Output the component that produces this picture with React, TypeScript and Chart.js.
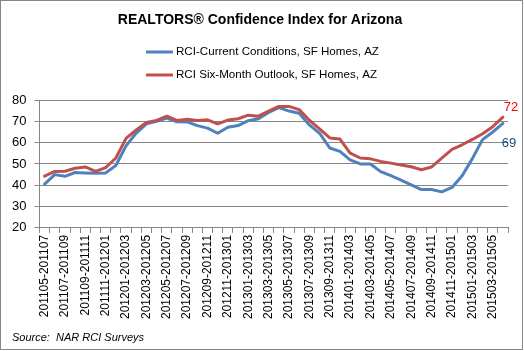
import React, { useEffect, useRef } from 'react';
import { Chart, registerables } from 'chart.js';

Chart.register(...registerables);

const titleText = 'REALTORS® Confidence Index for Arizona';
const seriesNames = ['RCI-Current Conditions, SF Homes, AZ', 'RCI Six-Month Outlook, SF Homes, AZ'];
const sourceText = 'Source:  NAR RCI Surveys';

const periods = [
  '201105-201107', '201106-201108', '201107-201109', '201108-201110', '201109-201111',
  '201110-201112', '201111-201201', '201112-201202', '201201-201203', '201202-201204',
  '201203-201205', '201204-201206', '201205-201207', '201206-201208', '201207-201209',
  '201208-201210', '201209-201211', '201210-201212', '201211-201301', '201212-201302',
  '201301-201303', '201302-201304', '201303-201305', '201304-201306', '201305-201307',
  '201306-201308', '201307-201309', '201308-201310', '201309-201311', '201310-201312',
  '201401-201403', '201402-201404', '201403-201405', '201404-201406', '201405-201407',
  '201406-201408', '201407-201409', '201408-201410', '201409-201411', '201410-201412',
  '201411-201501', '201412-201502', '201501-201503', '201502-201504', '201503-201505',
  '201504-201506',
];

const currentConditions = [
  40.5, 45, 44.2, 46, 45.8, 45.7, 45.8, 49.3, 58.5, 64.5,
  68.8, 70, 71.5, 69.8, 69.7, 68, 66.8, 64.4, 67.2, 68,
  70.3, 71.2, 74.2, 76.4, 74.8, 73.8, 68.3, 64.4, 57.5, 55.9,
  51.9, 50, 50, 46.4, 44.5, 42.4, 40.2, 38, 38, 36.9,
  39, 44.5, 52.5, 61.4, 65, 69,
];

const sixMonthOutlook = [
  44.3, 46.5, 46.6, 48, 48.6, 46.5, 48.3, 52.8, 62, 66,
  69.5, 70.4, 72.4, 70.4, 71, 70.4, 70.7, 68.8, 70.6, 71.2,
  72.9, 72.4, 74.8, 77, 77, 75.5, 70.5, 66.5, 62.2, 61.7,
  55.1, 52.8, 52.4, 51.2, 50.4, 49.5, 48.7, 47.3, 48.6, 52.7,
  56.8, 59, 61.5, 64.2, 67.5, 72,
];

const yMin = 20;
const yMax = 80;
const yStep = 10;

const BLUE = '#4F81BD';
const RED = '#C0504D';
const FONT = '"Liberation Sans", Arial, sans-serif';

const decorPlugin = {
  id: 'decor',
  beforeDraw(chart: any) {
    const { ctx, width, height } = chart;
    ctx.save();
    ctx.fillStyle = '#ffffff';
    ctx.fillRect(0, 0, width, height);
    ctx.strokeStyle = '#868686';
    ctx.lineWidth = 1;
    ctx.strokeRect(0.5, 0.5, width - 2, height - 2);
    ctx.restore();
  },
  afterDraw(chart: any) {
    const { ctx, width } = chart;
    ctx.save();
    // title
    ctx.fillStyle = '#000';
    ctx.font = `bold 14px ${FONT}`;
    ctx.textAlign = 'center';
    ctx.textBaseline = 'middle';
    ctx.fillText(titleText, width / 2 - 2, 20);

    // legend (vertical, centered block)
    ctx.font = `11.6px ${FONT}`;
    const colors = [BLUE, RED];
    const rowsY = [52, 75];
    const lineLen = 27;
    const gap = 3;
    const maxW = Math.max(...seriesNames.map((s) => ctx.measureText(s).width));
    const startX = Math.round((width - (lineLen + gap + maxW)) / 2);
    seriesNames.forEach((name, i) => {
      ctx.strokeStyle = colors[i];
      ctx.lineWidth = 3;
      ctx.beginPath();
      ctx.moveTo(startX, rowsY[i]);
      ctx.lineTo(startX + lineLen, rowsY[i]);
      ctx.stroke();
      ctx.fillStyle = '#000';
      ctx.textAlign = 'left';
      ctx.textBaseline = 'middle';
      ctx.fillText(name, startX + lineLen + gap, rowsY[i]);
    });

    // end labels
    const blueMeta = chart.getDatasetMeta(0);
    const redMeta = chart.getDatasetMeta(1);
    const bLast = blueMeta.data[blueMeta.data.length - 1];
    const rLast = redMeta.data[redMeta.data.length - 1];
    ctx.font = `13px ${FONT}`;
    ctx.textAlign = 'center';
    ctx.textBaseline = 'middle';
    ctx.fillStyle = '#FF0000';
    ctx.fillText(String(Math.round(sixMonthOutlook[sixMonthOutlook.length - 1])), rLast.x + 8, rLast.y - 10);
    ctx.fillStyle = '#1F497D';
    ctx.fillText(String(Math.round(currentConditions[currentConditions.length - 1])), bLast.x + 6, bLast.y + 20);

    // source
    ctx.fillStyle = '#000';
    ctx.font = `italic 11px ${FONT}`;
    ctx.textAlign = 'left';
    ctx.fillText(sourceText, 12, 338);
    ctx.restore();
  },
};

export default function App() {
  const ref = useRef<HTMLCanvasElement | null>(null);

  useEffect(() => {
    if (!ref.current) return;
    const chart = new Chart(ref.current, {
      type: 'line',
      data: {
        labels: periods,
        datasets: [
          {
            label: seriesNames[0],
            data: currentConditions,
            borderColor: BLUE,
            backgroundColor: BLUE,
            borderWidth: 3,
            pointRadius: 0,
            tension: 0,
            borderJoinStyle: 'round',
            borderCapStyle: 'round',
            order: 1,
          },
          {
            label: seriesNames[1],
            data: sixMonthOutlook,
            borderColor: RED,
            backgroundColor: RED,
            borderWidth: 3,
            pointRadius: 0,
            tension: 0,
            borderJoinStyle: 'round',
            borderCapStyle: 'round',
            order: 0,
          },
        ],
      },
      options: {
        responsive: false,
        animation: false,
        layout: { padding: { top: 100, left: 4, right: 16, bottom: 30 } },
        plugins: {
          legend: { display: false },
          title: { display: false },
          tooltip: { enabled: false },
        },
        scales: {
          x: {
            offset: true,
            grid: { offset: true, drawOnChartArea: false, tickLength: 5, color: '#868686' },
            border: { color: '#868686' },
            ticks: {
              autoSkip: false,
              maxRotation: 90,
              minRotation: 90,
              padding: 2,
              color: '#000',
              font: { size: 12, family: FONT },
              callback: (_v: any, i: number) => (i % 2 === 0 ? periods[i] : ''),
            },
          },
          y: {
            min: yMin,
            max: yMax,
            grid: { color: '#868686', tickLength: 5 },
            border: { color: '#868686' },
            ticks: {
              stepSize: yStep,
              padding: 8,
              color: '#000',
              font: { size: 13, family: FONT },
            },
          },
        },
      },
      plugins: [decorPlugin],
    } as any);
    return () => chart.destroy();
  }, []);

  return (
    <div style={{ position: 'absolute', left: 0, top: 0, width: 524, height: 351 }}>
      <canvas ref={ref} width={524} height={351} />
    </div>
  );
}
